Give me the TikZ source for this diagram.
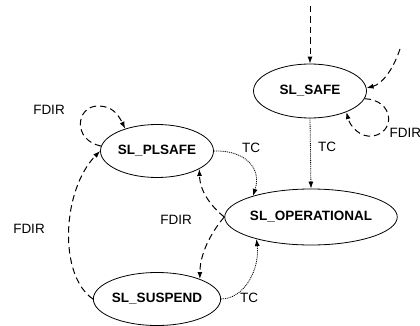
\documentclass[tikz,border=0pt]{standalone}
\usepackage{fontspec}
\setmainfont{Liberation Sans}
\usetikzlibrary{shapes.geometric,arrows.meta}
\begin{document}
\begin{tikzpicture}[x=1pt,y=-1pt,
  state/.style={ellipse,draw,line width=0.8pt,inner sep=0pt,font=\fontsize{13.5}{16}\selectfont\bfseries},
  lbl/.style={font=\fontsize{13.5}{16}\selectfont},
  fd/.style={line width=1pt,dash pattern=on 6.5pt off 4pt,-{Latex[length=7pt,width=5pt]}},
  tc/.style={line width=0.8pt,dash pattern=on 1pt off 0.9pt,-{Latex[length=7pt,width=5pt]}}]
\useasboundingbox (0,0) rectangle (420,326);
\node[state,minimum width=113pt,minimum height=54pt] (safe) at (310,91) {SL\_SAFE};
\node[state,minimum width=113pt,minimum height=53pt] (pl) at (157,151) {SL\_PLSAFE};
\node[state,minimum width=140pt,minimum height=56pt] (op) at (311,217) {SL\_OPERATIONAL};
\node[state,minimum width=114pt,minimum height=53pt] (sus) at (157,299) {SL\_SUSPEND};
\coordinate (in1) at (310,6);
\coordinate (in2) at (400,49);
% entries
\draw[fd] (in1) -- (safe.north);
\draw[fd] (in2) .. controls (393,70) and (382,84) .. (safe.3);
% SAFE self loop
\draw[fd] (safe.-8) .. controls (394,100) and (396,132) .. (373,136) .. controls (360,138) and (350,126) .. (safe.-30);
\node[lbl,anchor=west] (l1) at (386,133) {FDIR};
% SAFE -> OP
\draw[tc] (safe.south) -- (op.north);
\node[lbl] (l2) at (327,147) {TC};
% PL -> OP
\draw[tc] (pl.east) .. controls (245,150) and (262,168) .. (op.160);
\node[lbl] (l3) at (251,148) {TC};
% OP -> PL, OP -> SUS
\draw[fd] (op.west) .. controls (218,212) and (200,196) .. (pl.-23);
\draw[fd] (op.west) .. controls (218,224) and (200,248) .. (sus.25);
\node[lbl] (l4) at (176,220) {FDIR};
% SUS -> OP
\draw[tc] (sus.east) .. controls (245,299) and (260,268) .. (op.-158);
\node[lbl] (l5) at (249,298) {TC};
% SUS -> PL
\draw[fd] (sus.west) .. controls (58,275) and (62,190) .. (pl.west);
\node[lbl] (l6) at (29,229) {FDIR};
% PL self loop
\draw[fd] (pl.175) .. controls (72,140) and (76,106) .. (98,106) .. controls (112,106) and (118,114) .. (pl.145);
\node[lbl] (l7) at (49,110) {FDIR};
\end{tikzpicture}
\end{document}
